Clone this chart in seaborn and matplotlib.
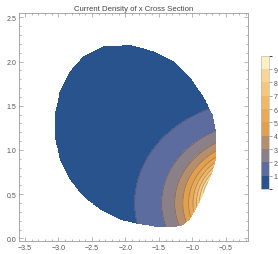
import numpy as np
import matplotlib
matplotlib.use("Agg")
import matplotlib.pyplot as plt
from matplotlib.path import Path
from matplotlib.colors import ListedColormap, BoundaryNorm
from matplotlib.ticker import MultipleLocator
import seaborn as sns

# outline of the cross section
outline_x = [-1.925, -1.576, -1.276, -1.025, -0.826, -0.700, -0.650, -0.650,
             -0.720, -0.820, -0.930, -1.040, -1.150, -1.280, -1.525, -1.825,
             -2.075, -2.375, -2.626, -2.825, -2.975, -3.050, -3.050, -2.975,
             -2.825, -2.626, -2.326]
outline_y = [2.185, 2.110, 1.997, 1.807, 1.580, 1.390, 1.201, 0.900,
             0.720, 0.540, 0.360, 0.220, 0.150, 0.130, 0.133, 0.170,
             0.216, 0.330, 0.481, 0.670, 0.898, 1.163, 1.390, 1.657,
             1.884, 2.054, 2.168]

# current density falls off as a power of the (stretched) distance
# from a point just right of the section, fitted to the contour crossings
hot_x, hot_y = 0.0, 0.40
x_stretch = 1.6
log_amp = 0.43
power = 2.84

levels = [0, 1, 2, 3, 4, 5, 6, 7, 8, 9, 10]
cbar_ticks = [1, 2, 3, 4, 5, 6, 7, 8, 9]
band_colors = ["#28538C", "#5C6C9E", "#8C8088", "#B58E6D", "#E0A050",
               "#E9A957", "#F0B766", "#F5C67B", "#FAD593", "#FEF0C4"]

sns.set_style("ticks")
plt.rcParams["font.family"] = ["Liberation Sans", "DejaVu Sans"]

fig = plt.figure(figsize=(2.78, 2.55), dpi=100)
ax = fig.add_axes([0.068, 0.051, 0.824, 0.894])

gx, gy = np.meshgrid(np.linspace(-3.2, -0.5, 500), np.linspace(0.0, 2.3, 500))
rr = np.sqrt(((gx - hot_x) / x_stretch) ** 2 + (gy - hot_y) ** 2)
field = np.minimum(np.exp(log_amp) * rr ** (-power), 9.99)
inside = Path(np.column_stack([outline_x, outline_y])).contains_points(
    np.column_stack([gx.ravel(), gy.ravel()])).reshape(gx.shape)
field = np.where(inside, field, np.nan)

cmap = ListedColormap(band_colors)
norm = BoundaryNorm(levels, cmap.N)
cs = ax.contourf(gx, gy, field, levels=levels, cmap=cmap, norm=norm)
ax.contour(gx, gy, field, levels=levels[1:-1], colors="#3a3a3a",
           linewidths=0.5, alpha=0.45)

ax.set_xlim(-3.59, -0.17)
ax.set_ylim(-0.03, 2.55)
ax.xaxis.set_major_locator(MultipleLocator(0.5))
ax.xaxis.set_minor_locator(MultipleLocator(0.1))
ax.yaxis.set_major_locator(MultipleLocator(0.5))
ax.yaxis.set_minor_locator(MultipleLocator(0.1))
ax.tick_params(which="both", direction="in", top=True, right=True,
               color="#9a9a9a", width=0.5, labelsize=5, labelcolor="#555555", pad=2)
ax.tick_params(which="major", length=3)
ax.tick_params(which="minor", length=1.5)
for s in ax.spines.values():
    s.set_color("#9a9a9a")
    s.set_linewidth(0.6)
ax.set_title("Current Density of x Cross Section", fontsize=5.6,
             color="#444444", pad=2.5)

cax = fig.add_axes([0.938, 0.255, 0.030, 0.522])
cb = fig.colorbar(cs, cax=cax, ticks=cbar_ticks)
cb.outline.set_edgecolor("#bbbbbb")
cb.outline.set_linewidth(0.5)
cax.tick_params(labelsize=5, length=2, width=0.5, color="#888888",
                labelcolor="#555555", pad=1.5)

fig.savefig("out.png", dpi=100, facecolor="white")
